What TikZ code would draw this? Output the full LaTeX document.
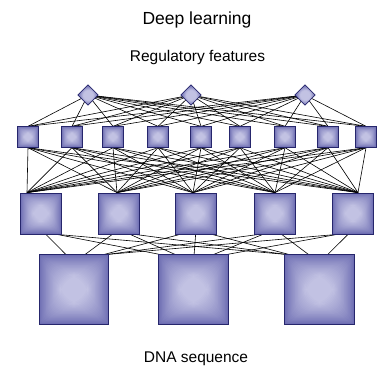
\documentclass[tikz,border=0pt]{standalone}
\usepackage{fontspec}
\setmainfont{Liberation Sans}
\usetikzlibrary{shapes.geometric,calc}
\definecolor{boxin}{RGB}{194,194,227}
\definecolor{boxout}{RGB}{108,108,178}
\definecolor{boxline}{RGB}{38,38,108}
\pgfdeclareradialshading{boxshade}{\pgfpoint{0bp}{0bp}}{color(0bp)=(boxin); color(12bp)=(boxin); color(25bp)=(boxout); color(50bp)=(boxout)}
\pgfdeclarelayer{bg}
\pgfsetlayers{bg,main}
\begin{document}
\begin{tikzpicture}[x=1pt,y=-1pt,
  unit/.style={rectangle, draw=boxline, line width=0.8pt, fill=boxout, inner sep=0pt,
    minimum size=#1,
    path picture={
      \foreach \k in {1,...,24} {
        \pgfmathsetmacro\pc{100*(\k/24)^0.85}
        \pgfmathsetmacro\dd{0.3*#1*\k/24}
        \pgfmathsetmacro\hh{#1/2-\dd}
        \fill[boxin!\pc!boxout, rounded corners=\dd pt]
          ($(path picture bounding box.center)+(-\hh,-\hh)$)
          rectangle
          ($(path picture bounding box.center)+(\hh,\hh)$);
      }
    }},
  feat/.style={diamond, aspect=1, draw=boxline, line width=0.8pt, shading=boxshade, inner sep=0pt, minimum width=20.5, minimum height=20.5},
  link/.style={draw=black, line width=0.6pt},
  lab/.style={anchor=base, inner sep=0pt}]
\useasboundingbox (0,0) rectangle (379,367);
% texts
\node[lab, font=\fontsize{17.5}{20}\selectfont] (title) at (197,24.5) {Deep learning};
\node[lab, font=\fontsize{15.5}{18}\selectfont] (top) at (197.5,61.7) {Regulatory features};
\node[lab, font=\fontsize{15.5}{18}\selectfont] (bottom) at (196,362.3) {DNA sequence};
% layers
\foreach \x [count=\i] in {88,191,305}
  \node[feat] (d\i) at (\x,95) {};
\foreach \x [count=\i] in {28,72,113,158,201,240,285,328,366}
  \node[unit=20.5] (a\i) at (\x,137) {};
\foreach \x [count=\i] in {41,119,196,275,353}
  \node[unit=41] (b\i) at (\x,213.5) {};
\foreach \x [count=\i] in {74,193.5,319.5}
  \node[unit=69.5] (c\i) at (\x,289.5) {};
% convergence points on the tops of the third layer
\foreach \dx [count=\i] in {-14,-2,-3,0,5}
  \coordinate (bt\i) at ($(b\i.north)+(\dx,0)$);
\begin{pgfonlayer}{bg}
\foreach \i in {1,2,3}
  \foreach \j in {1,...,9}
    \draw[link] (d\i.center) -- (a\j.north);
\foreach \i in {1,...,9}
  \foreach \j in {1,...,5}
    \draw[link] (a\i.south) -- (bt\j);
\foreach \i in {1,...,5}
  \foreach \j in {1,2,3} {
    \pgfmathsetmacro\cbi{{41,119,196,275,353}[\i-1]}
    \pgfmathsetmacro\ccj{{74,193.5,319.5}[\j-1]}
    \pgfmathsetmacro\upo{max(-16,min(16,0.15*(\ccj-\cbi)))}
    \pgfmathsetmacro\dno{max(-34,min(34,0.25*(\cbi-\ccj)))}
    \draw[link] ($(b\i.south)+(\upo,0)$) -- ($(c\j.north)+(\dno,0)$);
  }
\end{pgfonlayer}
\end{tikzpicture}
\end{document}
